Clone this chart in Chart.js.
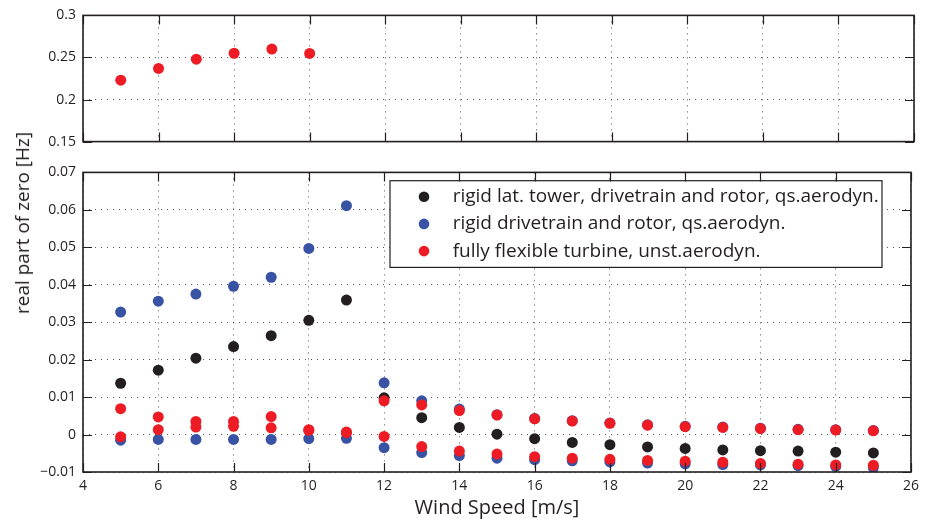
<!DOCTYPE html>
<html>
<head>
<meta charset="utf-8">
<script src="https://cdn.jsdelivr.net/npm/chart.js@4.4.0/dist/chart.umd.min.js"></script>
<style>
  body { margin: 0; background: #fff; }
  #wrap { position: relative; width: 925px; height: 523px; overflow: hidden; }
  #topChart { position: absolute; left: 0; top: 0; }
  #botChart { position: absolute; left: 0; top: 157px; }
  #ylabel {
    position: absolute; left: 22px; top: 223px;
    transform: translate(-50%, -50%) rotate(-90deg);
    font: 19px "Open Sans", sans-serif; color: #231f20; white-space: nowrap;
  }
</style>
</head>
<body>
<div id="wrap">
  <canvas id="topChart" width="925" height="157"></canvas>
  <canvas id="botChart" width="925" height="366"></canvas>
  <div id="ylabel">real part of zero [Hz]</div>
</div>
<script>
// wind speeds [m/s]
const windSpeed = [5, 6, 7, 8, 9, 10, 11, 12, 13, 14, 15, 16, 17, 18, 19, 20, 21, 22, 23, 24, 25];
const windSpeedTop = [5, 6, 7, 8, 9, 10];

// rigid lat. tower, drivetrain and rotor, qs.aerodyn.
const blackZero = [0.0137, 0.0172, 0.0204, 0.0235, 0.0264, 0.0305, 0.0359, 0.0098, 0.0045, 0.0019, 0.0001,
  -0.0011, -0.0021, -0.0027, -0.0033, -0.0037, -0.0041, -0.0043, -0.0044, -0.0047, -0.0049];

// rigid drivetrain and rotor, qs.aerodyn.
const blueZeroHigh = [0.0327, 0.0356, 0.0375, 0.0396, 0.0420, 0.0497, 0.0611, 0.0138, 0.0090, 0.0068, 0.0053,
  0.0043, 0.0037, 0.0031, 0.0026, 0.0022, 0.0020, 0.0017, 0.0014, 0.0013, 0.0011];
const blueZeroLow = [-0.0015, -0.0013, -0.0013, -0.0013, -0.0013, -0.0011, -0.0010, -0.0035, -0.0048, -0.0056, -0.0063,
  -0.0067, -0.0070, -0.0073, -0.0076, -0.0078, -0.0080, -0.0081, -0.0083, -0.0085, -0.0088];

// fully flexible turbine, unst.aerodyn.
const redZeroHigh = [0.0069, 0.0047, 0.0035, 0.0035, 0.0048, 0.0013, 0.0007, 0.0090, 0.0079, 0.0064, 0.0052,
  0.0042, 0.0036, 0.0030, 0.0025, 0.0021, 0.0019, 0.0016, 0.0013, 0.0012, 0.0010];
const redZeroLow = [-0.0006, 0.0013, 0.0020, 0.0022, 0.0018, 0.0011, 0.0005, -0.0005, -0.0032, -0.0044, -0.0052,
  -0.0059, -0.0063, -0.0066, -0.0069, -0.0071, -0.0074, -0.0077, -0.0079, -0.0081, -0.0082];
const redZeroTop = [0.223, 0.237, 0.248, 0.255, 0.260, 0.2548];

const seriesLabels = [
  "rigid lat. tower, drivetrain and rotor, qs.aerodyn.",
  "rigid drivetrain and rotor, qs.aerodyn.",
  "fully flexible turbine, unst.aerodyn."
];
const seriesColors = ["#231f20", "#3953a4", "#ed1c24"];

const xTicks = [4, 6, 8, 10, 12, 14, 16, 18, 20, 22, 24, 26];
const yTicksTop = [0.15, 0.2, 0.25, 0.3];
const yLabelsTop = ["0.15", "0.2", "0.25", "0.3"];
const yTicksBot = [-0.01, 0, 0.01, 0.02, 0.03, 0.04, 0.05, 0.06, 0.07];
const yLabelsBot = ["\u22120.01", "0", "0.01", "0.02", "0.03", "0.04", "0.05", "0.06", "0.07"];

const ink = "#231f20";
const font = "'Open Sans', sans-serif";

const toPoints = (xs, ys) => xs.map((x, i) => ({ x: x, y: ys[i] }));

// box round the plot area with ticks pointing inwards, matlab style
const frameTicks = {
  id: "frameTicks",
  afterDraw(chart) {
    const { ctx, chartArea: a, scales } = chart;
    const len = 9;
    ctx.save();
    ctx.strokeStyle = ink;
    ctx.lineWidth = 1.2;
    ctx.beginPath();
    scales.x.ticks.forEach((t) => {
      const px = Math.round(scales.x.getPixelForValue(t.value)) + 0.5;
      ctx.moveTo(px, a.bottom); ctx.lineTo(px, a.bottom - len);
      ctx.moveTo(px, a.top); ctx.lineTo(px, a.top + len);
    });
    scales.y.ticks.forEach((t) => {
      const py = Math.round(scales.y.getPixelForValue(t.value)) + 0.5;
      ctx.moveTo(a.left, py); ctx.lineTo(a.left + len, py);
      ctx.moveTo(a.right, py); ctx.lineTo(a.right - len, py);
    });
    ctx.stroke();
    ctx.lineWidth = 1.6;
    ctx.strokeRect(a.left, a.top, a.right - a.left, a.bottom - a.top);
    ctx.restore();
  }
};

const legendBox = {
  id: "legendBox",
  afterDatasetsDraw(chart) {
    const { ctx, chartArea: a } = chart;
    const left = a.left + 307, top = a.top + 8.3;
    const w = a.right - 29 - left, h = 86.7;
    ctx.save();
    ctx.fillStyle = "#fff";
    ctx.fillRect(left, top, w, h);
    ctx.strokeStyle = ink;
    ctx.lineWidth = 1.2;
    ctx.strokeRect(left, top, w, h);
    ctx.font = "19px " + font;
    ctx.textBaseline = "middle";
    seriesLabels.forEach((lab, i) => {
      const y = top + 16 + i * 27.2;
      ctx.fillStyle = seriesColors[i];
      ctx.beginPath();
      ctx.arc(left + 34, y, 5.3, 0, Math.PI * 2);
      ctx.fill();
      ctx.fillStyle = ink;
      ctx.fillText(lab, left + 62.7, y);
    });
    ctx.restore();
  }
};

const gridOpts = { color: "rgba(35,31,32,0.75)", lineWidth: 1, drawTicks: false };
const borderOpts = { display: false, dash: [1, 5] };

const makeXScale = (showLabels, height) => ({
  type: "linear",
  min: 4,
  max: 26,
  afterBuildTicks: (s) => { s.ticks = xTicks.map((v) => ({ value: v })); },
  afterFit: (s) => { s.height = height; },
  grid: gridOpts,
  border: borderOpts,
  ticks: { display: showLabels, padding: 6, color: ink, font: { family: font, size: 14 } },
  title: {
    display: showLabels,
    text: "Wind Speed [m/s]",
    color: ink,
    font: { family: font, size: 20 },
    padding: { top: 0, bottom: 3 }
  }
});

const makeYScale = (min, max, ticks, labels) => ({
  type: "linear",
  min: min,
  max: max,
  afterBuildTicks: (s) => { s.ticks = ticks.map((v) => ({ value: v })); },
  afterFit: (s) => { s.width = 83; },
  grid: gridOpts,
  border: borderOpts,
  ticks: {
    padding: 7,
    color: ink,
    font: { family: font, size: 14 },
    callback: (v, i) => labels[i]
  }
});

const pointDs = (label, data, color, order) => ({
  label: label,
  data: data,
  order: order,
  showLine: false,
  backgroundColor: color,
  borderWidth: 0,
  pointRadius: 5.5,
  pointHoverRadius: 5.5
});

const baseOptions = {
  responsive: false,
  animation: false,
  plugins: { legend: { display: false }, tooltip: { enabled: false } }
};

new Chart(document.getElementById("topChart").getContext("2d"), {
  type: "scatter",
  data: {
    datasets: [pointDs(seriesLabels[2], toPoints(windSpeedTop, redZeroTop), seriesColors[2], 0)]
  },
  options: {
    ...baseOptions,
    layout: { padding: { top: 14, right: 11, left: 0, bottom: 0 } },
    scales: {
      x: makeXScale(false, 12),
      y: makeYScale(0.15, 0.3, yTicksTop, yLabelsTop)
    }
  },
  plugins: [frameTicks]
});

new Chart(document.getElementById("botChart").getContext("2d"), {
  type: "scatter",
  data: {
    datasets: [
      pointDs(seriesLabels[0], toPoints(windSpeed, blackZero), seriesColors[0], 2),
      pointDs(seriesLabels[1], toPoints(windSpeed, blueZeroHigh).concat(toPoints(windSpeed, blueZeroLow)), seriesColors[1], 1),
      pointDs(seriesLabels[2], toPoints(windSpeed, redZeroHigh).concat(toPoints(windSpeed, redZeroLow)), seriesColors[2], 0)
    ]
  },
  options: {
    ...baseOptions,
    layout: { padding: { top: 14, right: 11, left: 0, bottom: 0 } },
    scales: {
      x: makeXScale(true, 51),
      y: makeYScale(-0.01, 0.07, yTicksBot, yLabelsBot)
    }
  },
  plugins: [legendBox, frameTicks]
});
</script>
</body>
</html>
